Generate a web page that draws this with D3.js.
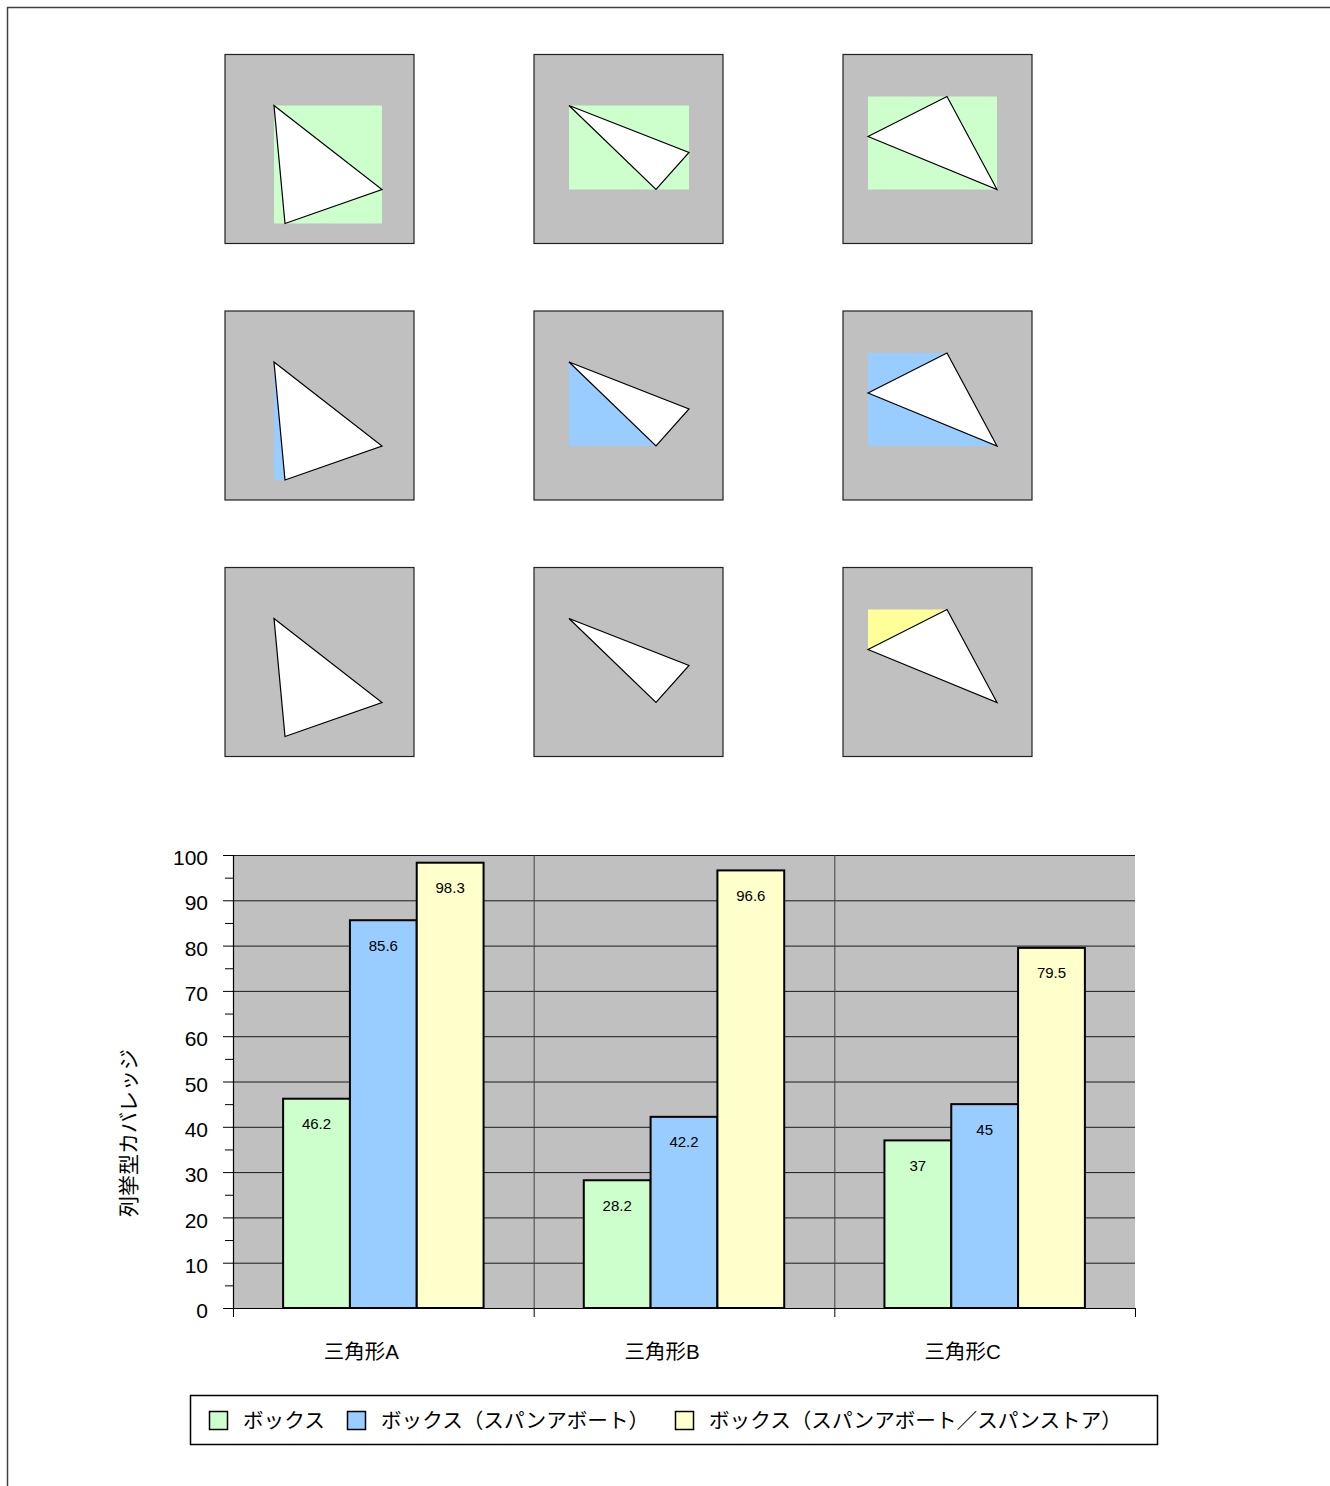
<!DOCTYPE html>
<html>
<head>
<meta charset="utf-8">
<script src="https://cdn.jsdelivr.net/npm/d3@7"></script>
<style>
  body { margin: 0; background: #fff; }
  svg { display: block; }
  text { font-family: "Liberation Sans", Arial, "Noto Sans CJK JP", sans-serif; fill: #000; }
</style>
</head>
<body>
<svg id="chart" width="1330" height="1486"></svg>
<script>
// ---- bar chart data ----
const categories = ["三角形A", "三角形B", "三角形C"];
const seriesNames = ["ボックス", "ボックス（スパンアボート）", "ボックス（スパンアボート／スパンストア）"];
const seriesColors = ["#ccffcc", "#99ccff", "#ffffcc"];
const boxValues = [46.2, 28.2, 37];
const spanAbortValues = [85.6, 42.2, 45];
const spanStoreValues = [98.3, 96.6, 79.5];
const yTicks = [0, 10, 20, 30, 40, 50, 60, 70, 80, 90, 100];
const yMinorTicks = [5, 15, 25, 35, 45, 55, 65, 75, 85, 95];
const yLabel = "列挙型カバレッジ";

// ---- triangle diagrams (panel units, panel is 189 x 189) ----
const triangleA = [[49, 51], [157, 135], [60, 169]];
const triangleB = [[35, 51], [155, 98], [122, 135]];
const triangleC = [[25, 82], [104, 42], [154, 135]];
// area reported by the span-abort box
const spanAbortRegionA = [[49, 51], [49, 169], [60, 169]];
const spanAbortRegionB = [[35, 51], [35, 135], [122, 135]];
const spanAbortRegionC = [[25, 42], [104, 42], [154, 135], [25, 135]];
// area reported by the span-abort / span-store box
const spanStoreRegionC = [[25, 42], [104, 42], [25, 82]];
const regionColors = ["#ccffcc", "#99ccff", "#ffff99"];

const svg = d3.select("#chart");

// outer frame
svg.append("rect")
  .attr("x", 7.5).attr("y", 7.5).attr("width", 1340).attr("height", 1500)
  .attr("fill", "none").attr("stroke", "#404040").attr("stroke-width", 1.5);

// ---- diagram grid ----
const triangles = [triangleA, triangleB, triangleC];
const bbox = tri => {
  const [x0, x1] = d3.extent(tri, d => d[0]);
  const [y0, y1] = d3.extent(tri, d => d[1]);
  return [[x0, y0], [x1, y0], [x1, y1], [x0, y1]];
};
const panelRegions = [
  triangles.map(bbox),
  [spanAbortRegionA, spanAbortRegionB, spanAbortRegionC],
  [null, null, spanStoreRegionC]
];

const panelSize = 189;
const colX = d3.scaleLinear().domain([0, 1]).range([225, 534]);
const rowY = d3.scaleLinear().domain([0, 1]).range([54.5, 311]);
const unit = d3.scaleLinear().domain([0, 189]).range([0, panelSize]);
const poly = pts => "M" + pts.map(p => unit(p[0]) + "," + unit(p[1])).join("L") + "Z";

panelRegions.forEach((row, r) => {
  row.forEach((region, c) => {
    const g = svg.append("g").attr("transform", `translate(${colX(c)},${rowY(r)})`);
    g.append("rect").attr("width", panelSize).attr("height", panelSize)
      .attr("fill", "#c0c0c0").attr("stroke", "#222").attr("stroke-width", 1.2);
    if (region) g.append("path").attr("d", poly(region)).attr("fill", regionColors[r]);
    g.append("path").attr("d", poly(triangles[c]))
      .attr("fill", "#fff").attr("stroke", "#000").attr("stroke-width", 1.2)
      .attr("stroke-linejoin", "miter");
  });
});

// ---- bar chart ----
const plot = { left: 233, right: 1135, top: 855, bottom: 1308 };
const x0 = d3.scaleBand().domain(categories).range([plot.left, plot.right]).padding(0);
const x1 = d3.scaleBand().domain(seriesNames).range([0, x0.bandwidth()])
  .paddingInner(0).paddingOuter(0.75);
const y = d3.scaleLinear().domain([0, 100]).range([plot.bottom, plot.top]);
const seriesValues = [boxValues, spanAbortValues, spanStoreValues];

svg.append("rect")
  .attr("x", plot.left).attr("y", plot.top)
  .attr("width", plot.right - plot.left).attr("height", plot.bottom - plot.top)
  .attr("fill", "#c0c0c0");

// horizontal gridlines
svg.append("g").selectAll("line").data(yTicks.slice(1)).join("line")
  .attr("x1", plot.left).attr("x2", plot.right)
  .attr("y1", d => y(d) + 0.5).attr("y2", d => y(d) + 0.5)
  .attr("stroke", "#1a1a1a").attr("stroke-width", 1);

// category separators
svg.append("g").selectAll("line").data(categories.slice(1)).join("line")
  .attr("x1", d => x0(d) + 0.5).attr("x2", d => x0(d) + 0.5)
  .attr("y1", plot.top).attr("y2", plot.bottom)
  .attr("stroke", "#404040").attr("stroke-width", 1);

// bars
const barData = [];
categories.forEach((cat, i) => seriesNames.forEach((s, j) =>
  barData.push({ cat, s, j, v: seriesValues[j][i] })));

svg.append("g").selectAll("rect").data(barData).join("rect")
  .attr("x", d => x0(d.cat) + x1(d.s))
  .attr("y", d => y(d.v))
  .attr("width", x1.bandwidth())
  .attr("height", d => y(0) - y(d.v))
  .attr("fill", d => seriesColors[d.j])
  .attr("stroke", "#000").attr("stroke-width", 2);

svg.append("g").selectAll("text").data(barData).join("text")
  .attr("x", d => x0(d.cat) + x1(d.s) + x1.bandwidth() / 2)
  .attr("y", d => y(d.v) + 25)
  .attr("text-anchor", "middle").attr("dominant-baseline", "central")
  .attr("font-size", 15)
  .text(d => d.v);

// y axis
const yAxis = svg.append("g").attr("transform", `translate(${plot.left},0)`)
  .call(d3.axisLeft(y).tickValues(yTicks).tickSize(10).tickPadding(15).tickFormat(d3.format("d")));
yAxis.select(".domain").attr("stroke", "#000").attr("stroke-width", 1.2);
yAxis.selectAll(".tick line").attr("stroke", "#000");
yAxis.selectAll(".tick text").attr("font-size", 21).attr("dy", "0.46em")
  .attr("font-family", "Liberation Sans, Arial, sans-serif").attr("fill", "#000");
svg.append("g").attr("transform", `translate(${plot.left},0)`)
  .call(d3.axisLeft(y).tickValues(yMinorTicks).tickSize(8).tickFormat(""))
  .call(g => g.select(".domain").remove())
  .selectAll(".tick line").attr("stroke", "#000");

// x axis
const xAxis = svg.append("g").attr("transform", `translate(0,${plot.bottom})`);
xAxis.append("line").attr("x1", plot.left).attr("x2", plot.right)
  .attr("y1", 0.5).attr("y2", 0.5).attr("stroke", "#000").attr("stroke-width", 1.2);
xAxis.selectAll("line.tk").data([...categories.map(c => x0(c)), plot.right]).join("line")
  .attr("class", "tk")
  .attr("x1", d => d + 0.5).attr("x2", d => d + 0.5).attr("y1", 0).attr("y2", 9)
  .attr("stroke", "#000");
xAxis.selectAll("text").data(categories).join("text")
  .attr("x", d => x0(d) + x0.bandwidth() / 2 - 22)
  .attr("y", 43)
  .attr("text-anchor", "middle").attr("dominant-baseline", "central")
  .attr("font-size", 20.5)
  .text(d => d);

// y axis title
svg.append("text")
  .attr("transform", "translate(128,1133) rotate(-90)")
  .attr("text-anchor", "middle").attr("dominant-baseline", "central")
  .attr("font-size", 21)
  .text(yLabel);

// legend
const legend = svg.append("g");
legend.append("rect").attr("x", 190.5).attr("y", 1395.5).attr("width", 967).attr("height", 49)
  .attr("fill", "#fff").attr("stroke", "#000").attr("stroke-width", 1.5);
const legendX = [209, 347, 675];
seriesNames.forEach((s, i) => {
  legend.append("rect").attr("x", legendX[i] + 0.5).attr("y", 1411.5).attr("width", 18).attr("height", 18)
    .attr("fill", seriesColors[i]).attr("stroke", "#000").attr("stroke-width", 1.5);
  legend.append("text").attr("x", legendX[i] + 34).attr("y", 1420)
    .attr("dominant-baseline", "central").attr("font-size", 20.6).text(s);
});
</script>
</body>
</html>
